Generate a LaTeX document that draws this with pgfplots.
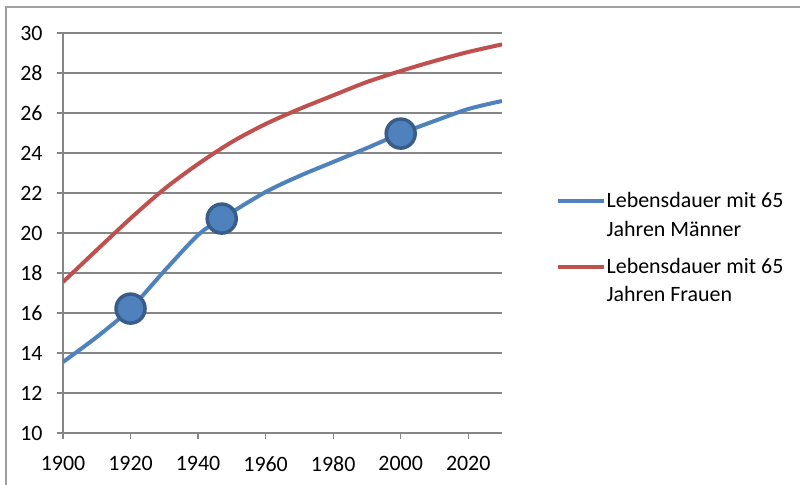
\documentclass[border=0pt]{standalone}
\usepackage{fontspec}
\setmainfont{Carlito}
\usepackage{pgfplots}
\pgfplotsset{compat=1.18}
\definecolor{mblue}{HTML}{4F81BD}
\definecolor{mred}{HTML}{C0504D}
\definecolor{medge}{HTML}{385D8A}
\definecolor{gridc}{HTML}{868686}
\definecolor{framec}{HTML}{A0A0A0}
\begin{document}
\begin{tikzpicture}
\useasboundingbox (0,0) rectangle (800bp,485bp);
\draw[framec, line width=2bp] (5.7bp,0bp) -- (5.7bp,477.5bp) -- (800bp,477.5bp);
\begin{axis}[
  at={(63bp,52bp)}, anchor=south west,
  scale only axis, width=439bp, height=400bp,
  xmin=1900, xmax=2030, ymin=10, ymax=30,
  xtick={1900,1920,...,2020}, ytick={10,12,...,30},
  axis lines*=left,
  axis line style={gridc, line width=1.2bp},
  tick style={gridc, line width=1.2bp},
  tick align=outside, major tick length=6bp,
  ymajorgrids, grid style={gridc, line width=1.2bp},
  /pgf/number format/1000 sep={},
  /pgf/number format/assume math mode=true,
  ticklabel style={font=\fontsize{22}{26}\selectfont, text=black},
  xticklabel style={yshift=-14bp},
  yticklabel style={xshift=-11bp},
  legend style={draw=none, fill=none, at={(1.115,0.61)}, anchor=north west,
    nodes={align=left, font=\fontsize{22}{29}\selectfont, inner sep=1bp},
    row sep=18bp},
  legend cell align=left,
  legend image code/.code={\path[draw=none,fill=none] (0bp,-14bp) -- (0bp,14bp); \draw[#1] (0bp,14bp) -- (46bp,14bp);},
]
\addplot[mblue, line width=4bp, smooth, tension=0.5] coordinates {
(1900,13.55) (1910,14.8) (1920,16.22) (1930,18.1) (1940,19.9) (1947,20.72)
(1960,22.05) (1970,22.85) (1980,23.55) (1990,24.25) (2000,24.97) (2010,25.6)
(2020,26.2) (2030,26.6)};
\addlegendentry{Lebensdauer mit 65\\Jahren Männer}
\addplot[mred, line width=4bp, smooth, tension=0.5] coordinates {
(1900,17.55) (1910,19.15) (1920,20.73) (1930,22.2) (1940,23.45) (1950,24.55)
(1960,25.45) (1970,26.2) (1980,26.88) (1990,27.55) (2000,28.1) (2010,28.6)
(2020,29.05) (2030,29.43)};
\addlegendentry{Lebensdauer mit 65\\Jahren Frauen}
\addplot[only marks, mark=*, mark size=14.5bp, forget plot,
  mark options={fill=mblue, draw=medge, line width=3.5bp}] coordinates {
(1920,16.22) (1947,20.72) (2000,24.97)};
\end{axis}
\end{tikzpicture}
\end{document}
